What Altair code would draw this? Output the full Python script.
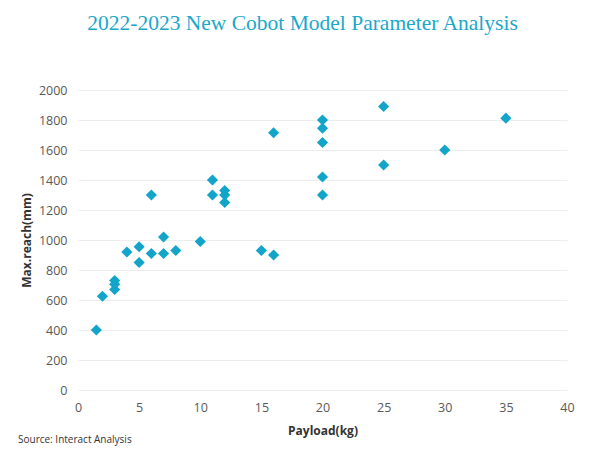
import altair as alt
import pandas as pd

payload = [1.5, 2, 3, 3, 3, 4, 5, 5, 6, 6, 7, 7, 8, 10, 11, 11, 12, 12, 12,
           15, 16, 16, 20, 20, 20, 20, 20, 25, 25, 30, 35]
reach = [400, 625, 730, 705, 670, 920, 955, 850, 1300, 910, 1020, 910, 930, 990,
         1400, 1300, 1330, 1300, 1250, 930, 1715, 900, 1800, 1745, 1650, 1420,
         1300, 1890, 1500, 1600, 1812]
x_ticks = [0, 5, 10, 15, 20, 25, 30, 35, 40]
y_ticks = [0, 200, 400, 600, 800, 1000, 1200, 1400, 1600, 1800, 2000]

df = pd.DataFrame({"payload": payload, "reach": reach})

font = "Open Sans"
color = "#12a5c9"

points = alt.Chart(df).mark_point(
    shape="diamond", filled=True, size=125, color=color, opacity=1
).encode(
    x=alt.X("payload:Q", scale=alt.Scale(domain=[0, 40], nice=False),
            axis=alt.Axis(values=x_ticks, title="Payload(kg)", grid=False,
                          domain=False, ticks=False, labelPadding=11,
                          labelFlush=False, format="d",
                          labelFontSize=12.5, labelColor="#595959", labelFont=font,
                          titleFont=font, titleFontSize=12, titleFontWeight="bold",
                          titleColor="#333333", titlePadding=12)),
    y=alt.Y("reach:Q", scale=alt.Scale(domain=[0, 2000], nice=False),
            axis=alt.Axis(values=y_ticks, title="Max.reach(mm)", grid=True,
                          gridColor="#ededed", domain=False, ticks=False,
                          format="d", labelFlush=False,
                          labelPadding=11, labelFontSize=12.5, labelColor="#595959",
                          labelFont=font, titleFont=font, titleFontSize=12,
                          titleFontWeight="bold", titleColor="#333333",
                          titlePadding=5)),
)

source = alt.Chart(pd.DataFrame({"t": ["Source: Interact Analysis"]})).mark_text(
    align="left", baseline="alphabetic", font=font, fontSize=10, color="#333333"
).encode(x=alt.value(-60), y=alt.value(353), text="t:N")

chart = alt.layer(points, source).properties(
    width=489,
    height=300,
    padding={"left": 70, "top": 82, "right": 25, "bottom": 56},
    autosize=alt.AutoSizeParams(type="none"),
    title=alt.TitleParams(
        "2022-2023 New Cobot Model Parameter Analysis",
        font="Liberation Serif", fontSize=21.5, fontWeight="normal", color="#1aa8ca",
        anchor="middle", frame="group", dx=-20, offset=50,
    ),
).configure_view(stroke=None)

chart.save("out.html", embed_options={"renderer": "svg", "actions": False})
